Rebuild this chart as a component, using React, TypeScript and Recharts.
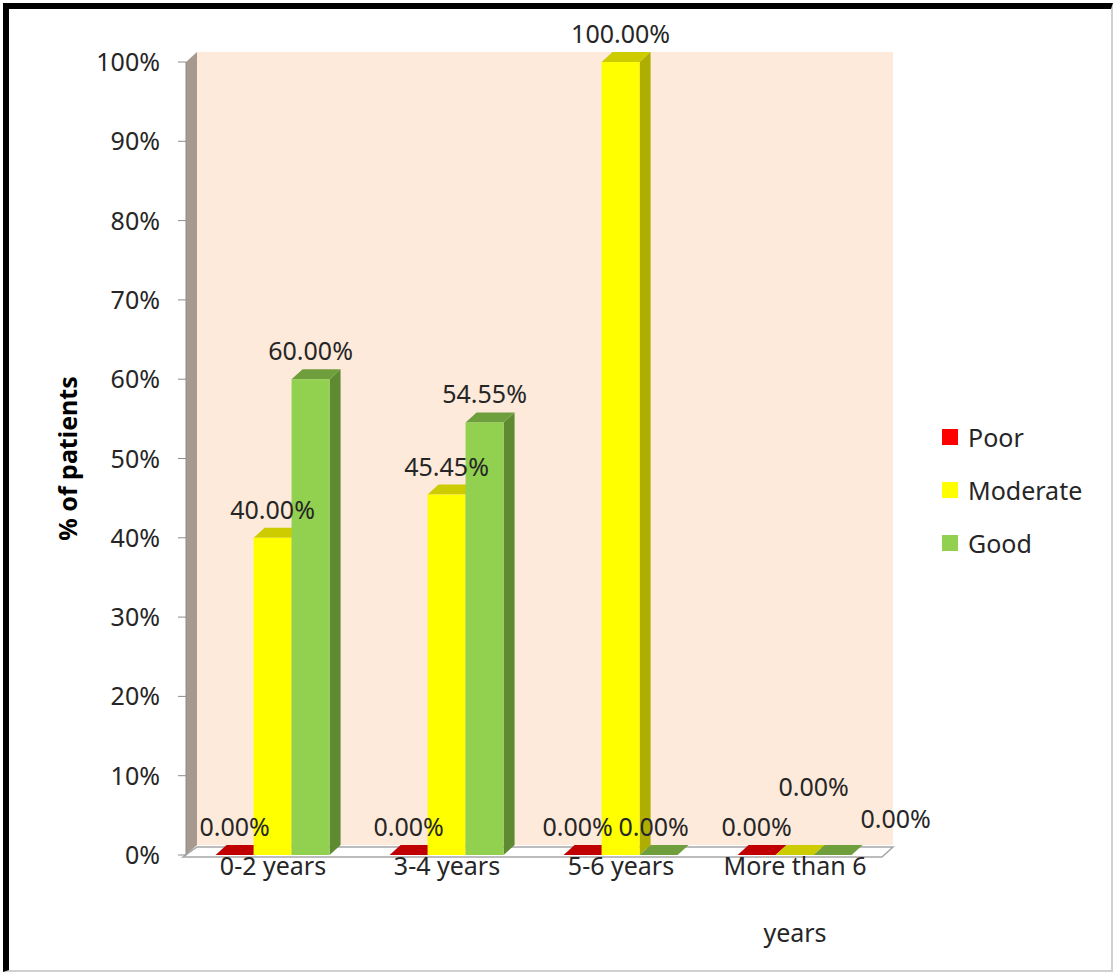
import { Bar, BarChart, LabelList, Legend, ReferenceArea, XAxis, YAxis } from 'recharts'

const CATEGORIES = ['0-2 years', '3-4 years', '5-6 years', 'More than 6 years']
const POOR = [0, 0, 0, 0]
const MODERATE = [40, 45.45, 100, 0]
const GOOD = [60, 54.55, 0, 0]
const Y_TICKS = [0, 10, 20, 30, 40, 50, 60, 70, 80, 90, 100]

const SERIES = [
  { key: 'poor', name: 'Poor', front: '#ff0000', top: '#c00000', side: '#a00000' },
  { key: 'moderate', name: 'Moderate', front: '#ffff00', top: '#cccc00', side: '#aeae00' },
  { key: 'good', name: 'Good', front: '#92d050', top: '#6f9e3d', side: '#5e8a32' },
]

// label nudges where Excel moved overlapping labels
const LABEL_NUDGE: Record<string, [number, number]> = {
  'poor-2': [-5, 0],
  'good-2': [-5, 0],
  'moderate-3': [19, -40],
  'good-3': [63, -8],
}

const data = CATEGORIES.map((name, i) => ({
  name,
  poor: POOR[i],
  moderate: MODERATE[i],
  good: GOOD[i],
}))

const DX = 11
const DY = 10
const FONT = '"Noto Sans", sans-serif'
const FS = 25
const TEXT = '#262626'

function Bar3D(props: any) {
  const { x, y, width, height, front, top, side } = props
  if (!height || height < 1) {
    const base = y + (height || 0)
    return (
      <polygon
        points={`${x},${base} ${x + DX},${base - DY} ${x + width + DX},${base - DY} ${x + width},${base}`}
        fill={top}
      />
    )
  }
  return (
    <g>
      <polygon
        points={`${x + width},${y} ${x + width + DX},${y - DY} ${x + width + DX},${y + height - DY} ${x + width},${y + height}`}
        fill={side}
      />
      <polygon
        points={`${x},${y} ${x + DX},${y - DY} ${x + width + DX},${y - DY} ${x + width},${y}`}
        fill={top}
      />
      <rect x={x} y={y} width={width} height={height} fill={front} />
    </g>
  )
}

function Walls(props: any) {
  const { x, y, width, height } = props
  const b = y + height
  return (
    <g>
      <rect x={x + DX} y={y - DY} width={width} height={height} fill="#fdeadb" />
      <polygon
        points={`${x},${y} ${x + DX},${y - DY} ${x + DX},${b - DY} ${x},${b}`}
        fill="#a69a90"
      />
      <polygon
        points={`${x - 3},${b + 2} ${x + DX},${b - DY + 2} ${x + width + DX},${b - DY + 2} ${x + width},${b + 2}`}
        fill="#ffffff"
        stroke="#a6a6a6"
        strokeWidth={1.5}
      />
    </g>
  )
}

function YTick(props: any) {
  const { y, payload } = props
  return (
    <text x={160} y={y + 9} textAnchor="end" fontSize={FS} fontFamily={FONT} fill={TEXT}>
      {`${payload.value}%`}
    </text>
  )
}

function XTick(props: any) {
  const { x, y, payload } = props
  const label: string = payload.value
  const lines = label === 'More than 6 years' ? ['More than 6', 'years'] : [label]
  return (
    <g>
      {lines.map((l, i) => (
        <text
          key={l}
          x={x}
          y={y + 12 + i * 67}
          textAnchor="middle"
          fontSize={FS}
          fontFamily={FONT}
          fill={TEXT}
        >
          {l}
        </text>
      ))}
    </g>
  )
}

function YTitle(props: any) {
  const { viewBox } = props
  const cx = 67
  const cy = viewBox.y + viewBox.height / 2
  return (
    <text
      x={cx}
      y={cy}
      transform={`rotate(-90 ${cx} ${cy})`}
      textAnchor="middle"
      dominantBaseline="central"
      fontSize={FS}
      fontWeight="bold"
      fontFamily={FONT}
      fill="#000"
    >
      % of  patients
    </text>
  )
}

function makeLabel(seriesKey: string) {
  return (props: any) => {
    const { x, y, width, value, index } = props
    const [nx, ny] = LABEL_NUDGE[`${seriesKey}-${index}`] ?? [0, 0]
    return (
      <text
        x={x + width / 2 + nx}
        y={y - 19 + ny}
        textAnchor="middle"
        fontSize={FS}
        fontFamily={FONT}
        fill={TEXT}
      >
        {`${Number(value).toFixed(2)}%`}
      </text>
    )
  }
}

function LegendBox() {
  return (
    <div style={{ fontFamily: FONT, fontSize: FS, color: TEXT }}>
      {SERIES.map((s) => (
        <div key={s.key} style={{ display: 'flex', alignItems: 'center', height: 53 }}>
          <span style={{ width: 16, height: 16, background: s.front, marginRight: 10 }} />
          <span>{s.name}</span>
        </div>
      ))}
    </div>
  )
}

export default function App() {
  return (
    <div style={{ position: 'relative', width: 1116, height: 975, background: '#fff' }}>
      <style>{'body{margin:0}'}</style>
      <div
        style={{
          position: 'absolute',
          left: 3,
          top: 3,
          width: 1110,
          height: 969,
          borderLeft: '6px solid #000',
          borderTop: '6px solid #000',
          borderRight: '2px solid #d0d0d0',
          borderBottom: '2px solid #d0d0d0',
          boxSizing: 'border-box',
        }}
      />
      <BarChart
        width={1116}
        height={975}
        data={data}
        margin={{ top: 62, right: 234, bottom: 90, left: 0 }}
        barCategoryGap="17%"
        barGap={0}
        style={{ position: 'absolute', left: 0, top: 0 }}
      >
        <ReferenceArea y1={0} y2={100} shape={<Walls />} ifOverflow="visible" />
        <XAxis dataKey="name" axisLine={false} tickLine={false} tick={<XTick />} interval={0} height={30} />
        <YAxis
          width={186}
          domain={[0, 100]}
          ticks={Y_TICKS}
          tick={<YTick />}
          tickSize={8}
          tickLine={{ stroke: '#8c8c8c' }}
          axisLine={{ stroke: '#8c8c8c' }}
          label={<YTitle />}
        />
        <Legend
          layout="vertical"
          verticalAlign="middle"
          align="center"
          wrapperStyle={{ left: 942, top: 410, width: 170 }}
          content={<LegendBox />}
        />
        {SERIES.map((s) => (
          <Bar
            key={s.key}
            dataKey={s.key}
            name={s.name}
            fill={s.front}
            isAnimationActive={false}
            shape={(p: any) => <Bar3D {...p} front={s.front} top={s.top} side={s.side} />}
          >
            <LabelList dataKey={s.key} content={makeLabel(s.key)} />
          </Bar>
        ))}
      </BarChart>
    </div>
  )
}
